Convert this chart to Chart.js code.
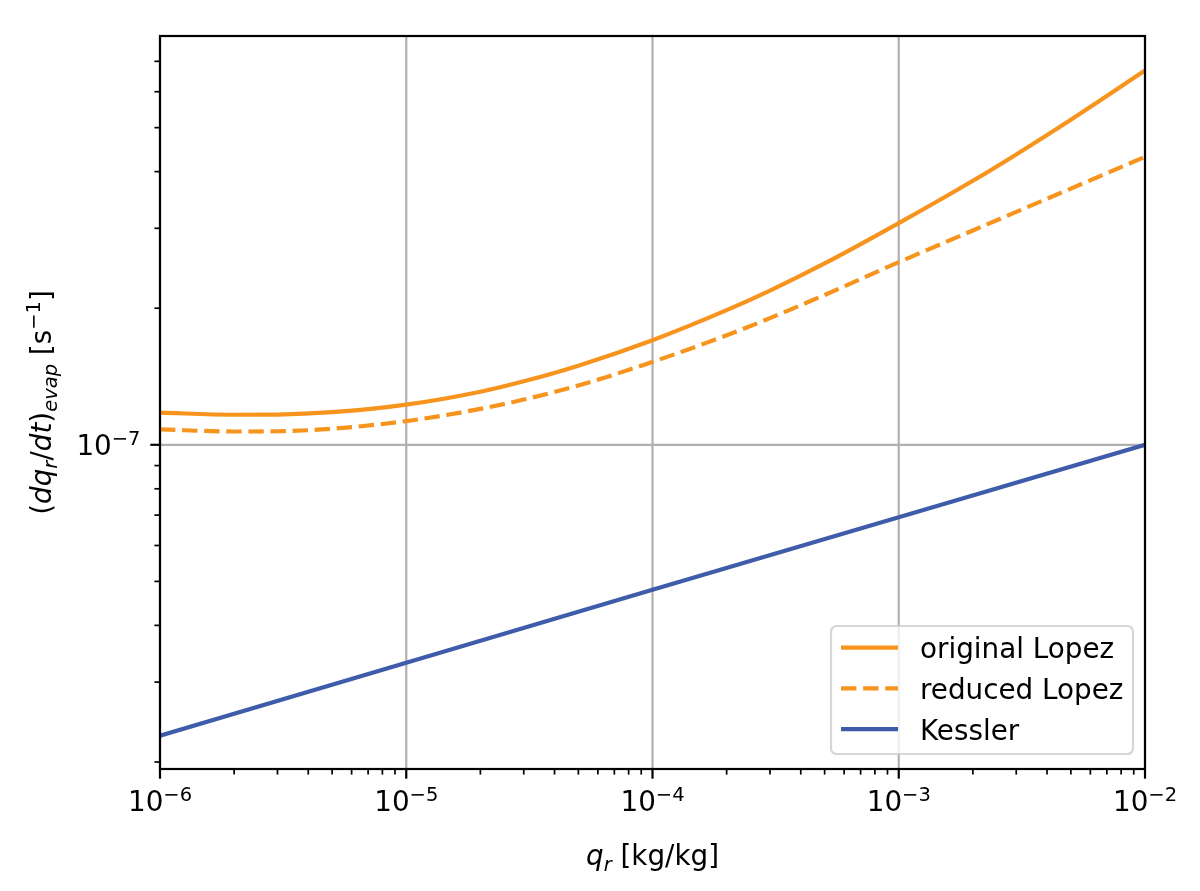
<!DOCTYPE html>
<html>
<head>
<meta charset="utf-8">
<script src="https://cdn.jsdelivr.net/npm/chart.js@4"></script>
<style>
  html, body { margin: 0; padding: 0; background: #fff; }
  canvas { display: block; }
</style>
</head>
<body>
<canvas id="chart" width="1200" height="891"></canvas>
<script>
// values (log-log axes)
const qr = [1e-6, 2e-6, 3e-6, 5e-6, 1e-5, 2e-5, 3e-5, 5e-5, 1e-4, 2e-4, 3e-4, 5e-4, 1e-3, 2e-3, 3e-3, 5e-3, 1e-2]
const originalLopez = [1.177e-7, 1.165e-7, 1.166e-7, 1.180e-7, 1.226e-7, 1.309e-7, 1.380e-7, 1.494e-7, 1.70e-7, 1.980e-7, 2.187e-7, 2.51e-7, 3.08e-7, 3.818e-7, 4.365e-7, 5.206e-7, 6.68e-7]
const reducedLopez = [1.081e-7, 1.070e-7, 1.071e-7, 1.085e-7, 1.128e-7, 1.200e-7, 1.258e-7, 1.351e-7, 1.523e-7, 1.743e-7, 1.902e-7, 2.139e-7, 2.526e-7, 2.967e-7, 3.26e-7, 3.67e-7, 4.31e-7]
const qrKessler = [1e-6, 1e-5, 1e-4, 1e-3, 1e-2]
const kessler = [2.286e-8, 3.31e-8, 4.79e-8, 6.92e-8, 1.0e-7]

const xTickExps = [-6, -5, -4, -3, -2]
const yTickExps = [-7]
const xRange = [1e-6, 1e-2]
const yRange = [1.93e-8, 7.96e-7]

const ORANGE = '#f7941e'
const BLUE = '#3e5ca9'
const FS = 27.8      // 10pt at 200 dpi
const FS_SMALL = 19.5
const FONT = '"DejaVu Sans"'

const pts = (xs, ys) => xs.map((x, i) => ({ x, y: ys[i] }))

const minorValues = (min, max) => {
  const out = []
  for (let e = Math.floor(Math.log10(min)); e <= Math.ceil(Math.log10(max)); e++) {
    for (let k = 2; k <= 9; k++) {
      const v = k * Math.pow(10, e)
      if (v >= min && v <= max) out.push(v)
    }
  }
  return out
}

// text runs: [text, size, italic, dy]
const runsWidth = (ctx, runs) => runs.reduce((w, r) => {
  ctx.font = `${r[2] ? 'italic ' : ''}${r[1]}px ${FONT}`
  return w + ctx.measureText(r[0]).width
}, 0)

const drawRuns = (ctx, runs, x, y) => {
  ctx.textAlign = 'left'
  ctx.textBaseline = 'alphabetic'
  runs.forEach(r => {
    ctx.font = `${r[2] ? 'italic ' : ''}${r[1]}px ${FONT}`
    ctx.fillText(r[0], x, y + r[3])
    x += ctx.measureText(r[0]).width
  })
}

const powRuns = (e) => [['10', FS, false, 0], ['\u2212' + Math.abs(e), FS_SMALL, false, -10.5]]

const mplAxes = {
  id: 'mplAxes',
  beforeDatasetsDraw(chart) {
    const { ctx, chartArea: a, scales: { x, y } } = chart
    ctx.save()
    ctx.strokeStyle = '#b0b0b0'
    ctx.lineWidth = 2.2
    xTickExps.forEach(e => {
      const px = x.getPixelForValue(Math.pow(10, e))
      ctx.beginPath(); ctx.moveTo(px, a.top); ctx.lineTo(px, a.bottom); ctx.stroke()
    })
    yTickExps.forEach(e => {
      const py = y.getPixelForValue(Math.pow(10, e))
      ctx.beginPath(); ctx.moveTo(a.left, py); ctx.lineTo(a.right, py); ctx.stroke()
    })
    ctx.restore()
  },
  afterDatasetsDraw(chart) {
    const { ctx, chartArea: a, scales: { x, y } } = chart
    ctx.save()
    ctx.fillStyle = '#000'
    ctx.strokeStyle = '#000'

    // minor ticks
    ctx.lineWidth = 1.7
    minorValues(xRange[0], xRange[1]).forEach(v => {
      const px = x.getPixelForValue(v)
      ctx.beginPath(); ctx.moveTo(px, a.bottom); ctx.lineTo(px, a.bottom + 5.6); ctx.stroke()
    })
    minorValues(yRange[0], yRange[1]).forEach(v => {
      const py = y.getPixelForValue(v)
      ctx.beginPath(); ctx.moveTo(a.left, py); ctx.lineTo(a.left - 5.6, py); ctx.stroke()
    })

    // major ticks + labels
    ctx.lineWidth = 2.2
    xTickExps.forEach(e => {
      const px = x.getPixelForValue(Math.pow(10, e))
      ctx.beginPath(); ctx.moveTo(px, a.bottom); ctx.lineTo(px, a.bottom + 9.7); ctx.stroke()
      const runs = powRuns(e)
      drawRuns(ctx, runs, px - runsWidth(ctx, runs) / 2, a.bottom + 42)
    })
    yTickExps.forEach(e => {
      const py = y.getPixelForValue(Math.pow(10, e))
      ctx.beginPath(); ctx.moveTo(a.left, py); ctx.lineTo(a.left - 9.7, py); ctx.stroke()
      const runs = powRuns(e)
      drawRuns(ctx, runs, a.left - 19.5 - runsWidth(ctx, runs), py + 10.5)
    })

    // spines
    ctx.strokeRect(a.left, a.top, a.right - a.left, a.bottom - a.top)

    // axis titles
    const xTitle = [['q', FS, true, 0], ['r', FS_SMALL, true, 6], [' [kg/kg]', FS, false, 0]]
    drawRuns(ctx, xTitle, (a.left + a.right) / 2 - runsWidth(ctx, xTitle) / 2, 865)

    const yTitle = [
      ['(', FS, false, 0], ['dq', FS, true, 0], ['r', FS_SMALL, true, 6],
      ['/', FS, false, 0], ['dt', FS, true, 0], [')', FS, false, 0],
      ['evap', FS_SMALL, true, 6], [' [s', FS, false, 0],
      ['\u22121', FS_SMALL, false, -11], [']', FS, false, 0]
    ]
    ctx.save()
    ctx.translate(51, (a.top + a.bottom) / 2)
    ctx.rotate(-Math.PI / 2)
    drawRuns(ctx, yTitle, -runsWidth(ctx, yTitle) / 2, 0)
    ctx.restore()

    // legend (lower right)
    const bx = 831, by = 626, bw = 302, bh = 128, r = 5.6
    ctx.beginPath()
    ctx.moveTo(bx + r, by)
    ctx.arcTo(bx + bw, by, bx + bw, by + bh, r)
    ctx.arcTo(bx + bw, by + bh, bx, by + bh, r)
    ctx.arcTo(bx, by + bh, bx, by, r)
    ctx.arcTo(bx, by, bx + bw, by, r)
    ctx.closePath()
    ctx.fillStyle = 'rgba(255,255,255,0.8)'
    ctx.fill()
    ctx.strokeStyle = 'rgba(204,204,204,0.8)'
    ctx.lineWidth = 2.2
    ctx.stroke()

    chart.data.datasets.forEach((ds, i) => {
      const ry = 647.7 + i * 40.7
      ctx.strokeStyle = ds.borderColor
      ctx.lineWidth = ds.borderWidth
      ctx.setLineDash(ds.borderDash || [])
      ctx.beginPath(); ctx.moveTo(841, ry); ctx.lineTo(898, ry); ctx.stroke()
      ctx.setLineDash([])
      ctx.fillStyle = '#000'
      drawRuns(ctx, [[ds.label, FS, false, 0]], 920, ry + 10.5)
    })
    ctx.restore()
  }
}

const setupChart = (el) => {
  const datasets = [
    { label: 'original Lopez', data: pts(qr, originalLopez), borderColor: ORANGE, borderWidth: 4.17, cubicInterpolationMode: 'monotone' },
    { label: 'reduced Lopez', data: pts(qr, reducedLopez), borderColor: ORANGE, borderWidth: 4.17, borderDash: [15.4, 6.7], cubicInterpolationMode: 'monotone' },
    { label: 'Kessler', data: pts(qrKessler, kessler), borderColor: BLUE, borderWidth: 4.17, tension: 0 }
  ]

  return new Chart(el, {
    type: 'line',
    data: { datasets },
    plugins: [mplAxes],
    options: {
      responsive: false,
      devicePixelRatio: 1,
      animation: false,
      elements: { point: { radius: 0 } },
      layout: { padding: { top: 36, right: 55, left: 0, bottom: 0 } },
      plugins: { legend: { display: false }, tooltip: { enabled: false } },
      scales: {
        x: {
          type: 'logarithmic', min: xRange[0], max: xRange[1],
          grid: { display: false }, border: { display: false },
          ticks: { display: false },
          afterFit: s => { s.height = 122 }
        },
        y: {
          type: 'logarithmic', min: yRange[0], max: yRange[1],
          grid: { display: false }, border: { display: false },
          ticks: { display: false },
          afterFit: s => { s.width = 160 }
        }
      }
    }
  })
}

setupChart(document.getElementById('chart'))
</script>
</body>
</html>
